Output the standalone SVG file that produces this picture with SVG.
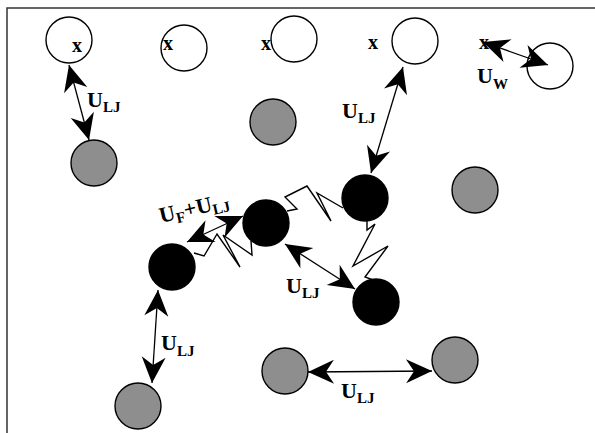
<svg xmlns="http://www.w3.org/2000/svg" width="595" height="433" viewBox="0 0 595 433">
<style>
.open{fill:#fff;stroke:#000;stroke-width:1.4}
.gray{fill:#8e8e8e;stroke:#000;stroke-width:1.4}
.black{fill:#000;stroke:#000;stroke-width:1.4}
.arr{fill:none;stroke:#000;stroke-width:1.3;marker-start:url(#ah);marker-end:url(#ah)}
.spring{fill:none;stroke:#000;stroke-width:1.4;stroke-linejoin:miter}
text{font-family:"Liberation Serif","Times New Roman",serif;font-weight:bold;fill:#000}
.u{font-size:22px}
.x{font-size:20px}
.sub{font-size:15px}
</style>
<defs>
<marker id="ah" viewBox="-28 -13 30 26" refX="0" refY="0" markerWidth="30" markerHeight="26" markerUnits="userSpaceOnUse" orient="auto-start-reverse">
<path d="M0,0 L-26,-12 L-18,0 L-26,12 Z" fill="#000"/>
</marker>
</defs>
<rect width="595" height="433" fill="#fff"/>
<g id="frame"><path d="M7,433 L7,8 L595,8" fill="none" stroke="#333" stroke-width="1.5"/></g>

<g id="open1"><circle class="open" cx="69" cy="40" r="23"/><text class="x" x="72" y="52">x</text></g>
<g id="open2"><circle class="open" cx="184" cy="48" r="23"/><text class="x" x="163" y="50">x</text></g>
<g id="open3"><circle class="open" cx="294" cy="39" r="23"/><text class="x" x="261" y="50">x</text></g>
<g id="open4"><circle class="open" cx="415" cy="41" r="23"/><text class="x" x="368" y="49">x</text></g>
<g id="open5"><circle class="open" cx="550" cy="66" r="23"/><text class="x" x="479" y="49">x</text></g>

<g id="gray1"><circle class="gray" cx="94" cy="163" r="23"/></g>
<g id="gray2"><circle class="gray" cx="273" cy="122" r="23"/></g>
<g id="gray3"><circle class="gray" cx="475" cy="190" r="23"/></g>
<g id="gray4"><circle class="gray" cx="138" cy="406" r="23"/></g>
<g id="gray5"><circle class="gray" cx="285" cy="371" r="23"/></g>
<g id="gray6"><circle class="gray" cx="455" cy="360" r="23"/></g>

<g id="black1"><circle class="black" cx="172" cy="267" r="23"/></g>
<g id="black2"><circle class="black" cx="266" cy="223" r="23"/></g>
<g id="black3"><circle class="black" cx="365" cy="198" r="23"/></g>
<g id="black4"><circle class="black" cx="376" cy="302" r="23"/></g>

<g id="connectors">
<polyline class="spring" points="194,253 204,256 217,234 240,267 223,235 252,255 251,241"/>
<polyline class="spring" points="287,211 297,209 285,197 307,186 331,221 317,193 343,208"/>
<polyline class="spring" points="367,220 367,230 375,224 353,266 388,246 365,277 373,280"/>
<line class="arr" x1="69" y1="65" x2="89" y2="140"/>
<line class="arr" x1="403" y1="67" x2="371" y2="173"/>
<line class="arr" x1="187" y1="242" x2="243" y2="216"/>
<line class="arr" x1="285" y1="244" x2="355" y2="289"/>
<line class="arr" x1="158" y1="290" x2="152" y2="383"/>
<line class="arr" x1="308" y1="372" x2="432" y2="371"/>
<line class="arr" x1="483" y1="42" x2="548" y2="65"/>
</g>

<g id="labels">
<text class="u" x="87" y="107">U<tspan class="sub" dy="5">LJ</tspan></text>
<text class="u" x="342" y="118">U<tspan class="sub" dy="5">LJ</tspan></text>
<text class="u" x="477" y="83">U<tspan class="sub" dy="6">W</tspan></text>
<text class="u" x="286" y="293">U<tspan class="sub" dy="5">LJ</tspan></text>
<text class="u" x="161" y="350">U<tspan class="sub" dy="6">LJ</tspan></text>
<text class="u" x="341" y="398">U<tspan class="sub" dy="5">LJ</tspan></text>
<text class="u" x="161" y="223" transform="rotate(-13 161 223)">U<tspan class="sub" dy="4">F</tspan><tspan dy="-4">+U</tspan><tspan class="sub" dy="4">LJ</tspan></text>
</g>
</svg>
